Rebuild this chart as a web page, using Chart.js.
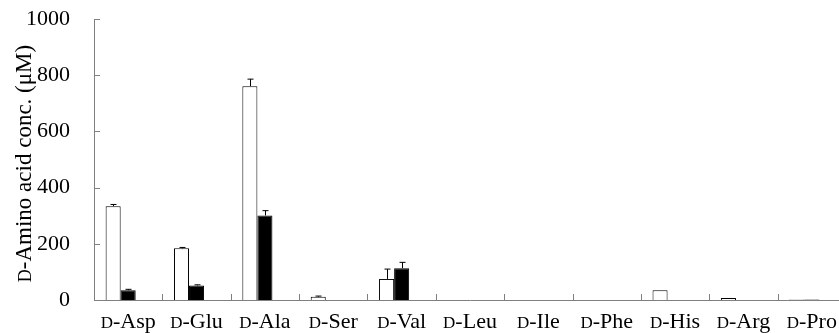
<!DOCTYPE html>
<html>
<head>
<meta charset="utf-8">
<script src="https://cdn.jsdelivr.net/npm/chart.js@4.4.1/dist/chart.umd.min.js"></script>
<style>
  html, body { margin: 0; padding: 0; background: #fff; overflow: hidden; }
  #wrap { width: 850px; height: 333px; }
</style>
</head>
<body>
<div id="wrap"><canvas id="chart"></canvas></div>
<script>
// amino acid names (the "D" prefix is drawn as small caps)
let aminoAcids = ["Asp", "Glu", "Ala", "Ser", "Val", "Leu", "Ile", "Phe", "His", "Arg", "Pro"];
let whiteValues = [334, 184, 761, 12, 75, 0, 0, 0, 35, 7, 1.5];
let whiteErrors = [6, 3, 25, 2, 35, 0, 0, 0, 0, 0, 0];
let blackValues = [35, 52, 301, 0, 113, 0, 0, 0, 0, 0, 2];
let blackErrors = [3, 2, 17, 0, 21, 0, 0, 0, 0, 0, 0];
let emptySeries = [null, null, null, null, null, null, null, null, null, null, null];
let yTicks = [0, 200, 400, 600, 800, 1000];

const axisGray = "#808080";
const serif = "'Liberation Serif', 'Times New Roman', serif";

// error bars, drawn upward only
const errorBars = {
    id: "errorBars",
    afterDatasetsDraw(chart) {
        const ctx = chart.ctx;
        const y = chart.scales.y;
        const errs = [whiteErrors, blackErrors];
        ctx.save();
        ctx.strokeStyle = "#000";
        ctx.lineWidth = 1;
        for (let d = 0; d < 2; d++) {
            const meta = chart.getDatasetMeta(d);
            meta.data.forEach((bar, i) => {
                const e = errs[d][i];
                if (!e) return;
                const v = chart.data.datasets[d].data[i];
                const top = y.getPixelForValue(v + e);
                const x = Math.round(bar.x) + 0.5;
                ctx.beginPath();
                ctx.moveTo(x, bar.y);
                ctx.lineTo(x, top);
                ctx.moveTo(x - 3, top);
                ctx.lineTo(x + 3, top);
                ctx.stroke();
            });
        }
        ctx.restore();
    }
};

// draws "D" in small caps followed by the rest of the text
function smallCapsD(ctx, rest, cx, cy, bigSize, smallSize) {
    const big = bigSize + "px " + serif;
    const small = smallSize + "px " + serif;
    ctx.font = small;
    const wd = ctx.measureText("D").width;
    ctx.font = big;
    const wr = ctx.measureText(rest).width;
    const x0 = cx - (wd + wr) / 2;
    ctx.font = small;
    ctx.fillText("D", x0, cy);
    ctx.font = big;
    ctx.fillText(rest, x0 + wd, cy);
}

// inner tick marks, x labels and y title
const decorations = {
    id: "decorations",
    afterDraw(chart) {
        const ctx = chart.ctx;
        const area = chart.chartArea;
        const y = chart.scales.y;
        ctx.save();
        ctx.strokeStyle = axisGray;
        ctx.lineWidth = 1;
        ctx.beginPath();
        yTicks.forEach(t => {
            const py = Math.round(y.getPixelForValue(t)) + 0.5;
            ctx.moveTo(area.left, py);
            ctx.lineTo(area.left + 6, py);
        });
        const w = (area.right - area.left) / aminoAcids.length;
        for (let i = 1; i < aminoAcids.length; i++) {
            const px = Math.round(area.left + i * w) + 0.5;
            ctx.moveTo(px, area.bottom);
            ctx.lineTo(px, area.bottom - 6);
        }
        ctx.stroke();

        ctx.fillStyle = "#000";
        ctx.textBaseline = "alphabetic";
        aminoAcids.forEach((name, i) => {
            smallCapsD(ctx, "-" + name, area.left + (i + 0.5) * w, 328, 22, 17);
        });

        // y axis title
        ctx.translate(31, (area.top + area.bottom) / 2 + 4);
        ctx.rotate(-Math.PI / 2);
        smallCapsD(ctx, "-Amino acid conc. (\u03bcM)", 0, 0, 23, 18);
        ctx.restore();
    }
};

new Chart(document.getElementById("chart"), {
    type: "bar",
    data: {
        labels: aminoAcids,
        datasets: [
            { label: "white", data: whiteValues, backgroundColor: "#fff", borderColor: "#000", borderWidth: 1 },
            { label: "black", data: blackValues, backgroundColor: "#000", borderColor: "#000", borderWidth: 1 },
            { label: "", data: emptySeries, backgroundColor: "#fff" }
        ]
    },
    options: {
        responsive: true,
        maintainAspectRatio: false,
        animation: false,
        categoryPercentage: 0.66,
        barPercentage: 1,
        layout: { padding: { top: 19, right: 4, left: 0, bottom: 0 } },
        plugins: { legend: { display: false }, tooltip: { enabled: false } },
        scales: {
            x: {
                grid: { display: false },
                border: { display: true, color: axisGray, width: 1 },
                ticks: { color: "rgba(0,0,0,0)", font: { family: serif, size: 12 } },
                afterFit(scale) {
                    scale.height = 33;
                    scale.paddingLeft = 0;
                    scale.paddingRight = 0;
                }
            },
            y: {
                min: 0,
                max: 1000,
                grid: { display: false, drawTicks: false },
                border: { display: true, color: axisGray, width: 1 },
                ticks: {
                    stepSize: 200,
                    padding: 24,
                    color: "#000",
                    font: { family: serif, size: 22 },
                    callback: v => String(v)
                },
                afterFit(scale) {
                    scale.width = 94;
                    scale.paddingTop = 0;
                    scale.paddingBottom = 0;
                }
            }
        }
    },
    plugins: [errorBars, decorations]
});
</script>
</body>
</html>
